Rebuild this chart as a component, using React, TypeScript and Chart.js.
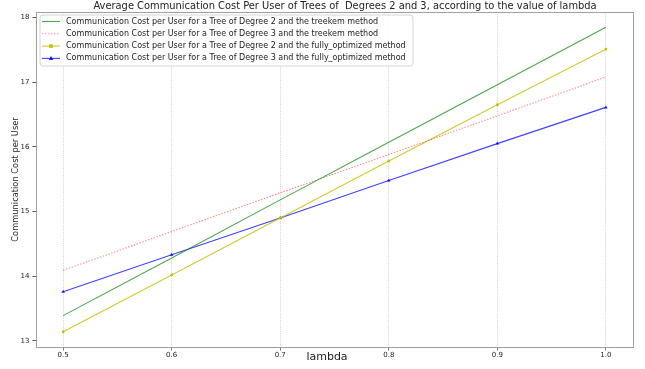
import React, { useEffect, useRef } from "react";
import { Chart, registerables } from "chart.js";

Chart.register(...registerables);

const lambdas = [0.5, 0.6, 0.7, 0.8, 0.9, 1.0];
const deg2Treekem = [13.39, 14.28, 15.18, 16.07, 16.96, 17.85];
const deg3Treekem = [14.09, 14.69, 15.29, 15.88, 16.48, 17.08];
const deg2FullyOptimized = [13.14, 14.02, 14.9, 15.78, 16.65, 17.51];
const deg3FullyOptimized = [13.76, 14.33, 14.9, 15.48, 16.05, 16.61];

const xTicks = [0.5, 0.6, 0.7, 0.8, 0.9, 1.0];
const yTicks = [13, 14, 15, 16, 17, 18];

const seriesLabels = [
  "Communication Cost per User for a Tree of Degree 2 and the treekem method",
  "Communication Cost per User for a Tree of Degree 3 and the treekem method",
  "Communication Cost per User for a Tree of Degree 2 and the fully_optimized method",
  "Communication Cost per User for a Tree of Degree 3 and the fully_optimized method",
];

const titleText =
  "Average Communication Cost Per User of Trees of  Degrees 2 and 3, according to the value of lambda";
const xTitle = "lambda";
const yTitle = "Communication Cost per User";

const FONT = "'DejaVu Sans', sans-serif";

const toPoints = (ys: number[]) => lambdas.map((x, i) => ({ x, y: ys[i] }));

function drawMarker(ctx: CanvasRenderingContext2D, style: string, x: number, y: number, r: number, color: string) {
  ctx.save();
  ctx.fillStyle = color;
  ctx.setLineDash([]);
  if (style === "rect") {
    ctx.fillRect(x - r, y - r, 2 * r, 2 * r);
  } else if (style === "triangle") {
    ctx.beginPath();
    ctx.moveTo(x, y - r * 1.2);
    ctx.lineTo(x + r * 1.1, y + r * 0.8);
    ctx.lineTo(x - r * 1.1, y + r * 0.8);
    ctx.closePath();
    ctx.fill();
  }
  ctx.restore();
}

const decorPlugin = {
  id: "decor",
  afterDatasetsDraw(chart: any) {
    const ctx: CanvasRenderingContext2D = chart.ctx;
    const x0 = 40, y0 = 15, w = 373, h = 51;
    ctx.save();
    ctx.beginPath();
    const r = 3;
    ctx.moveTo(x0 + r, y0);
    ctx.lineTo(x0 + w - r, y0);
    ctx.quadraticCurveTo(x0 + w, y0, x0 + w, y0 + r);
    ctx.lineTo(x0 + w, y0 + h - r);
    ctx.quadraticCurveTo(x0 + w, y0 + h, x0 + w - r, y0 + h);
    ctx.lineTo(x0 + r, y0 + h);
    ctx.quadraticCurveTo(x0, y0 + h, x0, y0 + h - r);
    ctx.lineTo(x0, y0 + r);
    ctx.quadraticCurveTo(x0, y0, x0 + r, y0);
    ctx.closePath();
    ctx.fillStyle = "rgba(255,255,255,0.85)";
    ctx.fill();
    ctx.strokeStyle = "#d6d6d6";
    ctx.lineWidth = 1;
    ctx.stroke();

    chart.data.datasets.forEach((ds: any, i: number) => {
      const y = y0 + 6.5 + i * 12.3;
      ctx.save();
      ctx.strokeStyle = ds.borderColor;
      ctx.lineWidth = ds.borderWidth;
      ctx.setLineDash(ds.borderDash || []);
      ctx.beginPath();
      ctx.moveTo(42, y);
      ctx.lineTo(60, y);
      ctx.stroke();
      ctx.restore();
      if (ds.pointRadius > 0) {
        drawMarker(ctx, ds.pointStyle, 51, y, ds.pointRadius, ds.pointBackgroundColor);
      }
      ctx.fillStyle = "#222";
      ctx.font = `8px ${FONT}`;
      ctx.textBaseline = "middle";
      ctx.textAlign = "left";
      ctx.fillText(ds.label, 66, y);
    });
    ctx.restore();
  },
  afterDraw(chart: any) {
    const ctx: CanvasRenderingContext2D = chart.ctx;
    const a = chart.chartArea;
    ctx.save();
    ctx.strokeStyle = "#a0a0a0";
    ctx.lineWidth = 1;
    ctx.setLineDash([]);
    ctx.strokeRect(Math.round(a.left) + 0.5, Math.round(a.top) + 0.5, Math.round(a.right - a.left), Math.round(a.bottom - a.top));
    ctx.fillStyle = "#222";
    ctx.font = `9.9px ${FONT}`;
    ctx.textAlign = "center";
    ctx.textBaseline = "middle";
    ctx.fillText(titleText, 345, 6.5);
    ctx.font = `11px ${FONT}`;
    ctx.fillText(xTitle, 327, 357);
    ctx.restore();
  },
};

export default function App() {
  const canvasRef = useRef<HTMLCanvasElement | null>(null);

  useEffect(() => {
    document.body.style.margin = "0";
    const canvas = canvasRef.current;
    if (!canvas) return;
    const chart = new Chart(canvas, {
      type: "line",
      data: {
        datasets: [
          {
            label: seriesLabels[0],
            data: toPoints(deg2Treekem),
            borderColor: "rgba(0,128,0,0.7)",
            backgroundColor: "rgba(0,128,0,0.7)",
            borderWidth: 1.1,
            pointRadius: 0,
            pointStyle: "circle",
            pointBackgroundColor: "rgba(0,128,0,0.7)",
          },
          {
            label: seriesLabels[1],
            data: toPoints(deg3Treekem),
            borderColor: "rgba(255,0,0,0.45)",
            backgroundColor: "rgba(255,0,0,0.45)",
            borderWidth: 1.1,
            borderDash: [1.5, 1.5],
            pointRadius: 0,
            pointStyle: "circle",
            pointBackgroundColor: "rgba(255,0,0,0.45)",
          },
          {
            label: seriesLabels[2],
            data: toPoints(deg2FullyOptimized),
            borderColor: "rgba(191,191,0,0.8)",
            backgroundColor: "rgba(191,191,0,0.9)",
            borderWidth: 1.1,
            pointRadius: 1.8,
            pointStyle: "rect",
            pointBorderWidth: 0,
            pointBackgroundColor: "rgba(191,191,0,0.95)",
          },
          {
            label: seriesLabels[3],
            data: toPoints(deg3FullyOptimized),
            borderColor: "rgba(0,0,255,0.75)",
            backgroundColor: "rgba(0,0,255,0.85)",
            borderWidth: 1.1,
            pointRadius: 2,
            pointStyle: "triangle",
            pointBorderWidth: 0,
            pointBackgroundColor: "rgba(0,0,255,0.9)",
          },
        ],
      },
      options: {
        responsive: false,
        animation: false,
        layout: { padding: { top: 12, right: 12, left: 0, bottom: 0 } },
        plugins: {
          legend: { display: false },
          title: { display: false },
          tooltip: { enabled: false },
        },
        elements: { line: { tension: 0 } },
        scales: {
          x: {
            type: "linear",
            min: 0.475,
            max: 1.025,
            afterFit: (s: any) => {
              s.height = 22;
            },
            afterBuildTicks: (s: any) => {
              s.ticks = xTicks.map((v) => ({ value: v }));
            },
            ticks: {
              color: "#222",
              font: { family: FONT, size: 7 },
              padding: 0,
              maxRotation: 0,
              callback: (v: any) => Number(v).toFixed(1),
            },
            grid: {
              display: true,
              drawOnChartArea: true,
              drawTicks: true,
              tickLength: 3.5,
              color: "rgba(175,175,175,0.7)",
              tickColor: "#555",
              lineWidth: 0.8,
              tickBorderDash: [],
            },
            border: { display: false, dash: [1, 1.2] },
            title: { display: false },
          },
          y: {
            type: "linear",
            min: 12.905,
            max: 18.085,
            afterFit: (s: any) => {
              s.width = 36;
            },
            afterBuildTicks: (s: any) => {
              s.ticks = yTicks.map((v) => ({ value: v }));
            },
            ticks: {
              color: "#222",
              font: { family: FONT, size: 7 },
              padding: 3,
              callback: (v: any) => String(v),
            },
            grid: {
              display: true,
              drawOnChartArea: false,
              drawTicks: true,
              tickLength: 3.5,
              tickColor: "#555",
            },
            border: { display: false },
            title: {
              display: true,
              text: yTitle,
              color: "#222",
              font: { family: FONT, size: 8.3 },
              padding: { top: 11, bottom: 0 },
            },
          },
        },
      },
      plugins: [decorPlugin],
    } as any);
    return () => chart.destroy();
  }, []);

  return (
    <div style={{ width: 645, height: 369, background: "#fff" }}>
      <canvas ref={canvasRef} width={645} height={369} />
    </div>
  );
}
